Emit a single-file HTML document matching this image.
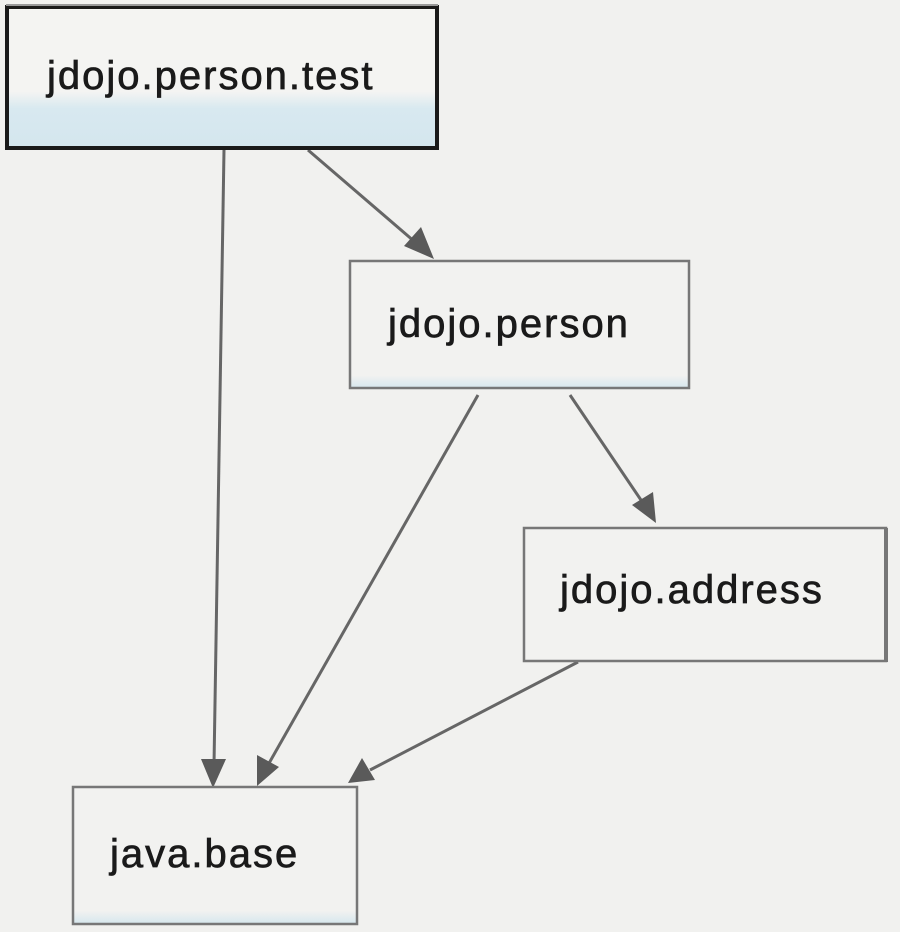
<!DOCTYPE html>
<html><head><style>
html,body{margin:0;padding:0;background:#f1f1ef;}
svg{display:block}
text{font-family:"Liberation Sans",sans-serif;fill:#1a1a1a;stroke:#1a1a1a;stroke-width:0.7;letter-spacing:2px;}
</style></head><body>
<svg width="900" height="932" viewBox="0 0 900 932" xmlns="http://www.w3.org/2000/svg">
<defs>
<linearGradient id="g" x1="0" y1="0" x2="0" y2="1">
<stop offset="0" stop-color="#f4f4f2"/>
<stop offset="0.6" stop-color="#f4f4f2"/>
<stop offset="0.72" stop-color="#d8e9f0"/>
<stop offset="1" stop-color="#d4e6ee"/>
</linearGradient>
<linearGradient id="g2" x1="0" y1="0" x2="0" y2="1">
<stop offset="0" stop-color="#f2f2f0"/>
<stop offset="0.9" stop-color="#f2f2f0"/>
<stop offset="1" stop-color="#d6e7ee"/>
</linearGradient>
</defs>
<g stroke="#666" stroke-width="3" fill="none">
<line x1="224" y1="150" x2="214" y2="765"/>
<line x1="308" y1="150" x2="415" y2="242"/>
<line x1="478" y1="395" x2="268" y2="765"/>
<line x1="570" y1="395" x2="643" y2="503"/>
<line x1="578" y1="662" x2="370" y2="770"/>
</g>
<g fill="#5a5a5a">
<polygon points="213,788 201,759 226,759"/>
<polygon points="434,259 404,246 421,227"/>
<polygon points="257,786 257,755 279,767"/>
<polygon points="656,523 632,505 653,492"/>
<polygon points="348,783 362,758 375,780"/>
</g>
<rect x="7" y="7" width="430" height="141" fill="url(#g)" stroke="#1a1a1a" stroke-width="4"/>
<line x1="6" y1="5" x2="438" y2="5" stroke="#999" stroke-width="2"/>
<text x="47" y="89" font-size="40">jdojo.person.test</text>

<rect x="350" y="261" width="339" height="127" fill="url(#g2)" stroke="#777" stroke-width="2.5"/>
<text x="388" y="337" font-size="40">jdojo.person</text>

<rect x="524" y="528" width="362" height="133" fill="#f2f2f0" stroke="#777" stroke-width="2.5"/>
<line x1="886" y1="528" x2="886" y2="662" stroke="#777" stroke-width="4"/>
<text x="560" y="603" font-size="40">jdojo.address</text>

<rect x="73" y="787" width="284" height="137" fill="url(#g2)" stroke="#777" stroke-width="2.5"/>
<text x="110" y="867" font-size="40">java.base</text>
</svg>
</body></html>
